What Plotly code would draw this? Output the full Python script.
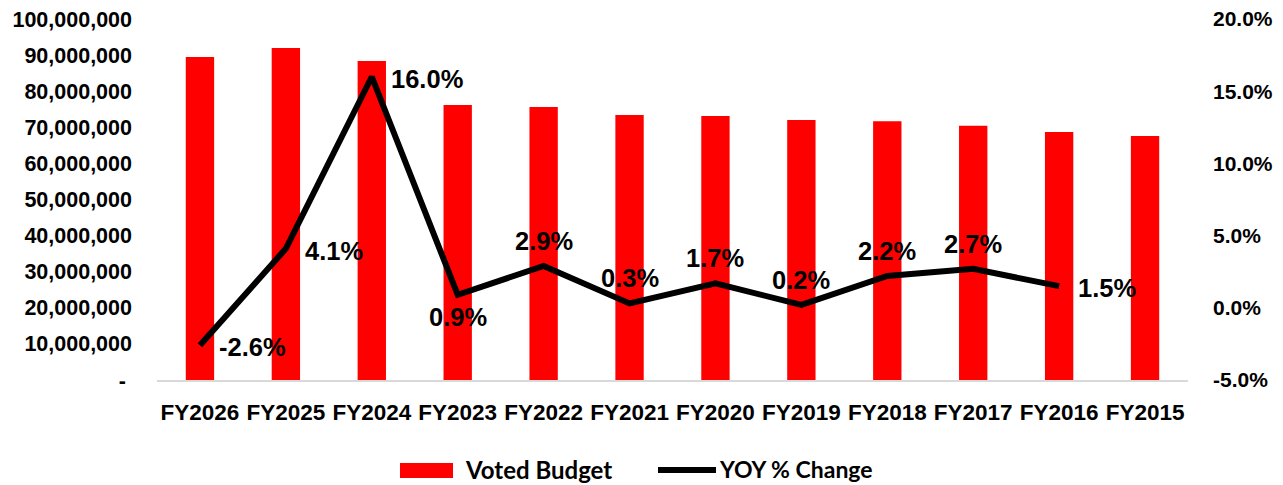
import plotly.graph_objects as go

categories = ["FY2026", "FY2025", "FY2024", "FY2023", "FY2022", "FY2021",
              "FY2020", "FY2019", "FY2018", "FY2017", "FY2016", "FY2015"]
voted_budget = [89500000, 92000000, 88400000, 76200000, 75600000, 73400000,
                73100000, 72000000, 71700000, 70400000, 68700000, 67600000]
yoy_change = [-2.6, 4.1, 16.0, 0.9, 2.9, 0.3, 1.7, 0.2, 2.2, 2.7, 1.5, None]
yoy_labels = ["-2.6%", "4.1%", "16.0%", "0.9%", "2.9%", "0.3%", "1.7%",
              "0.2%", "2.2%", "2.7%", "1.5%", ""]
label_side = ["right", "right", "right", "below", "above", "above", "above",
              "above", "above", "above", "right", "above"]

left_ticks = [0, 10000000, 20000000, 30000000, 40000000, 50000000,
              60000000, 70000000, 80000000, 90000000, 100000000]
left_tick_text = ["-\u00a0"] + [f"{v:,}" for v in left_ticks[1:]]
right_ticks = [-5, 0, 5, 10, 15, 20]
right_tick_text = [f"{v:.1f}%" for v in right_ticks]

FONT = "Liberation Sans, Arial, sans-serif"
LEG_FONT = "Lato, Liberation Sans, sans-serif"

# The page body has an 8px margin, so the figure is offset by 8px in the window.
OFF = 8
WIN_W, WIN_H = 1283, 485
W, H = WIN_W - OFF, WIN_H - OFF
# plot area in window pixels: left 157, right 1188, top 19, bottom 380
ML, MT = 157 - OFF, 19 - OFF
MR, MB = W - (1188 - OFF), H - (380 - OFF)
PW, PH = W - ML - MR, H - MT - MB


def px_x(px):
    return (px - OFF - ML) / PW


def px_y(py):
    return (H - MB - (py - OFF)) / PH


fig = go.Figure()
fig.add_trace(go.Bar(
    x=categories, y=voted_budget, name="Voted Budget",
    marker=dict(color="#FF0000", line=dict(width=0)), yaxis="y",
))
fig.add_trace(go.Scatter(
    x=categories, y=yoy_change, name="YOY % Change", yaxis="y2",
    mode="lines", line=dict(color="black", width=6),
))

annotations = []
for cat, val, lab, side in zip(categories, yoy_change, yoy_labels, label_side):
    if val is None or not lab:
        continue
    a = dict(x=cat, y=val, xref="x", yref="y2", text=lab, showarrow=False,
             font=dict(family=FONT, size=25.5, color="black", weight="bold"))
    if side == "right":
        a.update(xanchor="left", yanchor="middle", xshift=17, yshift=-2)
    elif side == "above":
        a.update(xanchor="center", yanchor="bottom", yshift=9)
    else:
        a.update(xanchor="center", yanchor="top", yshift=-6)
    annotations.append(a)

# Legend (drawn manually to match the reference's wide swatches)
annotations.append(dict(x=px_x(463), y=px_y(469), xref="paper", yref="paper",
                        xanchor="left", yanchor="middle", showarrow=False,
                        text="Voted Budget",
                        font=dict(family=LEG_FONT, size=24, color="black", weight="bold")))
annotations.append(dict(x=px_x(717), y=px_y(469), xref="paper", yref="paper",
                        xanchor="left", yanchor="middle", showarrow=False,
                        text="YOY % Change",
                        font=dict(family=LEG_FONT, size=23, color="black", weight="bold")))
shapes = [
    dict(type="rect", xref="paper", yref="paper",
         x0=px_x(400), x1=px_x(453), y0=px_y(478), y1=px_y(463),
         fillcolor="#FF0000", line=dict(width=0)),
    dict(type="line", xref="paper", yref="paper",
         x0=px_x(658), x1=px_x(716), y0=px_y(470), y1=px_y(470),
         line=dict(color="black", width=6)),
]

fig.update_layout(
    width=W, height=H,
    margin=dict(l=ML, r=MR, t=MT, b=MB, autoexpand=False),
    plot_bgcolor="white", paper_bgcolor="white",
    bargap=0.67,
    showlegend=False,
    font=dict(family=FONT, size=21.5, color="black", weight="bold"),
    xaxis=dict(showgrid=False, showline=True, linecolor="#D9D9D9", linewidth=2,
               ticks="", tickfont=dict(size=22.5, weight="bold"),
               ticklabelstandoff=11, automargin=False, ticklabeloverflow="allow"),
    yaxis=dict(range=[0, 100000000], tickvals=left_ticks, ticktext=left_tick_text,
               showgrid=False, zeroline=False, showline=False,
               tickfont=dict(size=21.5, weight="bold"), ticklabelstandoff=24,
               automargin=False, ticklabeloverflow="allow"),
    yaxis2=dict(range=[-5, 20], tickvals=right_ticks, ticktext=right_tick_text,
                overlaying="y", side="right", showgrid=False, zeroline=False,
                showline=False, tickfont=dict(size=21, weight="bold"),
                ticklabelstandoff=24, automargin=False, ticklabeloverflow="allow"),
    annotations=annotations,
    shapes=shapes,
)

fig.write_html("out.html")
